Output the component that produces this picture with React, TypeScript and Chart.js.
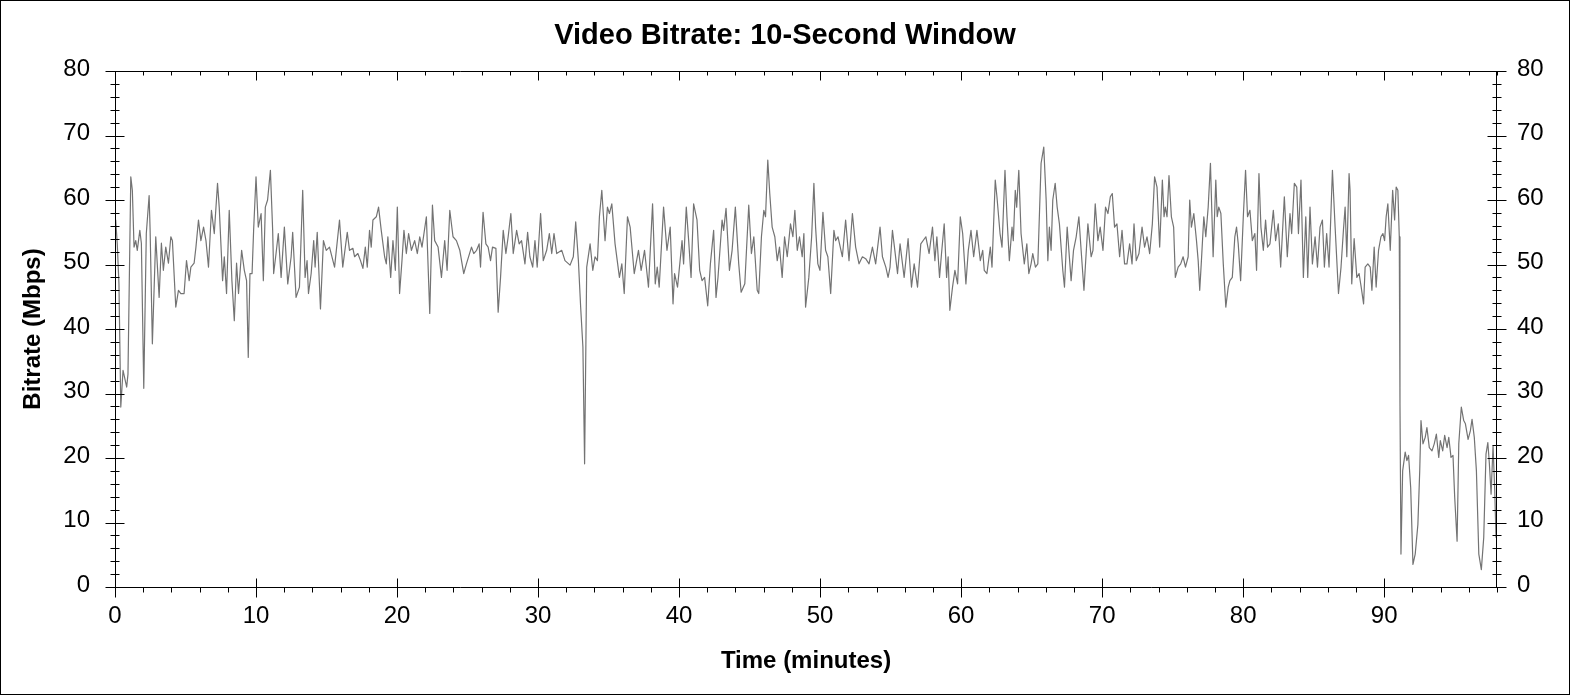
import { useEffect, useRef } from "react";
import { Chart, registerables } from "chart.js";

Chart.register(...registerables);

const FONT = "'Liberation Sans', Arial, Helvetica, sans-serif";

const TITLE = "Video Bitrate: 10-Second Window";
const X_TITLE = "Time (minutes)";
const Y_TITLE = "Bitrate (Mbps)";
const X_MAX = 98; // minutes
const Y_MAX = 80; // Mbps

// trace vertices: time (min) / bitrate (Mbps)
const minutes: number[] = [
  // 0 - 12 min
  0, 0.05, 0.16, 0.28, 0.41, 0.57, 0.83, 0.92, 1.12, 1.23,
  1.35, 1.47, 1.58, 1.76, 1.87, 2.04, 2.22, 2.42, 2.49, 2.65,
  2.89, 3.13, 3.29, 3.43, 3.6, 3.79, 3.96, 4.07, 4.31, 4.5,
  4.67, 4.9, 5.07, 5.26, 5.38, 5.61, 5.74, 5.92, 6.09, 6.28,
  6.45, 6.63, 6.84, 7.04, 7.27, 7.39, 7.63, 7.75, 7.91, 8.1,
  8.29, 8.46, 8.62, 8.76, 8.98, 9.17, 9.33, 9.45, 9.57, 9.72,
  9.83, 10.0, 10.16, 10.36, 10.52, 10.66, 10.82, 11.02, 11.18, 11.25,
  11.42, 11.58, 11.78, 12.01,
  // 12 - 25 min
  12.25, 12.49, 12.6, 12.84, 13.08, 13.31, 13.48, 13.62, 13.72, 13.91,
  14.09, 14.19, 14.34, 14.57, 14.78, 14.98, 15.21, 15.57, 15.92, 16.15,
  16.47, 16.63, 16.87, 16.99, 17.22, 17.41, 17.58, 17.75, 17.89, 18.05,
  18.17, 18.29, 18.53, 18.69, 18.88, 19.12, 19.24, 19.35, 19.55, 19.71,
  19.88, 20.02, 20.18, 20.35, 20.49, 20.66, 20.82, 21.02, 21.25, 21.44,
  21.61, 21.77, 22.08, 22.32, 22.51, 22.67, 22.91, 23.15, 23.38, 23.55,
  23.74, 23.97, 24.21, 24.45, 24.73,
  // 25 - 37 min
  24.92, 25.28, 25.44, 25.64, 25.82, 25.92, 26.1, 26.3, 26.46, 26.63,
  26.77, 27.01, 27.17, 27.34, 27.53, 27.72, 27.88, 28.07, 28.24, 28.48,
  28.66, 28.83, 29.07, 29.26, 29.42, 29.62, 29.78, 29.94, 30.18, 30.37,
  30.61, 30.8, 30.97, 31.13, 31.32, 31.68, 31.91, 32.27, 32.5, 32.67,
  32.86, 33.02, 33.18, 33.3, 33.45, 33.69, 33.88, 34.04, 34.21, 34.35,
  34.52, 34.75, 34.92, 35.06, 35.23, 35.46, 35.77, 35.94, 36.11, 36.34,
  36.53, 36.82,
  // 37 - 50 min
  37.12, 37.31, 37.55, 37.83, 38.12, 38.31, 38.45, 38.59, 38.9, 39.14,
  39.37, 39.57, 39.68, 39.89, 40.21, 40.32, 40.51, 40.68, 40.85, 41.03,
  41.27, 41.46, 41.63, 41.81, 42.03, 42.22, 42.45, 42.62, 42.76, 43.05,
  43.16, 43.33, 43.57, 43.76, 43.99, 44.23, 44.4, 44.66, 44.94, 45.13,
  45.3, 45.54, 45.65, 45.84, 46.01, 46.13, 46.29, 46.43, 46.6, 46.79,
  46.96, 47.12, 47.31, 47.48, 47.67, 47.9, 48.07, 48.21, 48.38, 48.54,
  48.73, 48.85, 48.97, 49.2, 49.4, 49.56, 49.68,
  // 50 - 62 min
  49.84, 49.99, 50.2, 50.39, 50.55, 50.75, 50.98, 51.1, 51.27, 51.58,
  51.81, 52.05, 52.29, 52.52, 52.76, 53, 53.23, 53.47, 53.71, 53.94,
  54.25, 54.42, 54.66, 54.82, 54.96, 55.13, 55.3, 55.49, 55.67, 55.96,
  56.24, 56.48, 56.67, 56.91, 57.14, 57.5, 57.73, 57.97, 58.14, 58.28,
  58.47, 58.61, 58.8, 58.97, 59.08, 59.2, 59.39, 59.56, 59.75, 59.94,
  60.11, 60.34, 60.51, 60.7, 60.89, 61.12, 61.36, 61.53, 61.64, 61.83,
  62.07,
  // 62 - 74 min
  62.19, 62.42, 62.54, 62.76, 62.9, 63.11, 63.25, 63.42, 63.61, 63.7,
  63.84, 63.94, 64.09, 64.25, 64.48, 64.66, 64.8, 64.96, 65.08, 65.27,
  65.44, 65.67, 65.86, 66.03, 66.15, 66.26, 66.38, 66.5, 66.67, 66.81,
  66.97, 67.21, 67.33, 67.52, 67.8, 67.97, 68.16, 68.35, 68.51, 68.71,
  68.99, 69.22, 69.35, 69.51, 69.7, 69.86, 70.06, 70.24, 70.41, 70.58,
  70.72, 70.88, 71.05, 71.24, 71.41, 71.59, 71.76, 71.95, 72.12, 72.26,
  72.42, 72.61, 72.83, 73.01, 73.18, 73.37, 73.56, 73.72, 73.89, 74.08,
  // 74 - 87 min
  74.27, 74.39, 74.48, 74.6, 74.74, 74.91, 75.07, 75.19, 75.39, 75.57,
  75.74, 75.91, 76.1, 76.21, 76.33, 76.5, 76.69, 76.81, 76.92, 77.04,
  77.21, 77.35, 77.52, 77.68, 77.87, 78.06, 78.16, 78.27, 78.42, 78.59,
  78.77, 78.94, 79.06, 79.23, 79.41, 79.53, 79.65, 79.82, 80.01, 80.17,
  80.31, 80.48, 80.65, 80.83, 80.95, 81.12, 81.26, 81.43, 81.59, 81.73,
  81.9, 82.14, 82.3, 82.49, 82.66, 82.92, 83.13, 83.32, 83.44, 83.63,
  83.8, 83.92, 84.1, 84.27, 84.44, 84.58, 84.74, 84.91, 85.1, 85.27,
  85.45, 85.62, 85.76, 85.92, 86.09, 86.33, 86.52, 86.76, 86.94,
  // 87 - 98 min
  87.11, 87.23, 87.35, 87.51, 87.58, 87.7, 87.87, 88.06, 88.22, 88.37,
  88.54, 88.65, 88.84, 89.01, 89.13, 89.29, 89.43, 89.6, 89.77, 89.91,
  90.03, 90.14, 90.26, 90.43, 90.6, 90.74, 90.85, 90.97, 91.07, 91.12,
  91.19, 91.31, 91.49, 91.61, 91.73, 91.88, 92.04, 92.2, 92.39, 92.52,
  92.61, 92.75, 92.91, 93.03, 93.2, 93.39, 93.55, 93.7, 93.87, 93.98,
  94.15, 94.29, 94.46, 94.58, 94.74, 94.88, 95, 95.17, 95.29, 95.47,
  95.64, 95.76, 95.95, 96.11, 96.23, 96.39, 96.54, 96.71, 96.89, 97.06,
  97.22, 97.35, 97.46, 97.58, 97.72, 97.84, 97.93, 98,
];

const mbps: number[] = [
  // 0 - 12 min
  55, 56.9, 53.2, 47, 27.9, 33.6, 31, 33, 63.6, 61.5,
  52.7, 53.7, 52.2, 55.3, 53.3, 30.8, 54.8, 60.7, 55.3, 37.7,
  54.3, 44.9, 53.3, 49.1, 52.7, 50.2, 54.3, 53.7, 43.4, 46,
  45.5, 45.5, 50.6, 47.5, 49.6, 50.2, 52.7, 56.9, 53.7, 55.8,
  53.7, 49.6, 58.4, 54.8, 62.6, 58.9, 47.5, 51.2, 45.5, 58.4,
  47.5, 41.3, 50.2, 45.5, 52.2, 49.1, 47.5, 35.6, 48.6, 48.6,
  55.3, 63.6, 55.8, 57.9, 47.5, 58.9, 60, 64.6, 55.3, 48.6,
  51.7, 54.8, 48, 55.8,
  // 12 - 25 min
  47, 51.2, 55, 44.9, 46.5, 61.5, 48, 50.6, 45.5, 48.6,
  53.7, 49.6, 55, 43.1, 53.7, 52.2, 52.7, 49.6, 56.9, 49.6,
  55, 52.2, 52.5, 51.2, 51.7, 50.6, 49.4, 52.7, 49.6, 55.3,
  52.7, 56.9, 57.4, 58.9, 55.3, 51.2, 50.1, 54.3, 48, 53.7,
  49.1, 58.9, 45.5, 50.6, 55.3, 51.7, 54.8, 52.2, 53.7, 51.7,
  54.3, 52.7, 57.4, 42.4, 59.2, 53.7, 52.7, 48, 53.7, 49.1,
  58.4, 54.3, 53.7, 52.2, 48.6,
  // 25 - 37 min
  50.1, 52.7, 51.7, 52.2, 53.2, 49.6, 58.1, 53.2, 52.7, 50.6,
  52.7, 52.5, 42.6, 48, 55.3, 51.7, 54.3, 57.9, 51.7, 55.3,
  53.2, 53.7, 50.1, 55, 51.2, 49.6, 53.7, 49.6, 57.9, 50.6,
  52.2, 54.8, 51.7, 54.8, 51.7, 52.2, 50.6, 49.9, 51.2, 56.6,
  50.6, 43.4, 37.2, 19.1, 49.6, 53.2, 49.1, 51.2, 50.6, 57.4,
  61.5, 53.7, 58.9, 57.9, 59.4, 53.2, 48, 50.1, 45.5, 57.4,
  55.8, 48.6,
  // 37 - 50 min
  52.2, 49.1, 52.2, 46.5, 59.4, 47, 49.6, 46.5, 58.9, 52.2,
  55.8, 43.9, 48.6, 46.5, 53.7, 50.1, 58.9, 53.7, 48, 59.4,
  56.9, 49.1, 47.5, 48, 43.6, 50.1, 55.3, 44.9, 48, 56.9,
  55.3, 58.7, 49.1, 52.2, 58.9, 50.1, 45.7, 47, 59.2, 51.7,
  54.3, 46, 45.5, 54.3, 58.4, 57.4, 66.2, 61, 55.8, 54.3,
  50.6, 52.7, 48, 54.3, 51.2, 56.3, 54.3, 58.4, 52.2, 54.3,
  51.2, 54.8, 43.4, 48, 54.3, 62.6, 55.8,
  // 50 - 62 min
  50.1, 49.1, 58.1, 52.2, 51.2, 45.5, 55.3, 53.7, 54.3, 51.2,
  56.9, 50.6, 57.9, 52.7, 50.1, 51.2, 50.9, 50.1, 52.7, 50.1,
  55.8, 51.2, 49.6, 48, 49.6, 55.3, 52.2, 48.6, 53.2, 48,
  54, 46.5, 50.1, 46.5, 53.2, 54.3, 51.7, 55.8, 50.6, 54.3,
  48, 51.7, 56.3, 48, 51.2, 42.9, 46.5, 49.1, 47, 57.4,
  54.8, 47, 52.2, 55.3, 51.2, 55.3, 50.6, 52.2, 49.1, 48.6,
  52.7,
  // 62 - 74 min
  49.6, 63.1, 60.5, 54.8, 52.7, 64.6, 57.4, 50.6, 55.8, 53.7,
  61.5, 58.9, 64.6, 54.8, 50.1, 53.2, 48.6, 50.1, 51.7, 49.6,
  50.1, 65.7, 68.2, 60, 50.6, 55.8, 52.2, 60, 62.6, 58.9,
  56.3, 49.1, 46.5, 55.8, 47.5, 52.2, 54.3, 57.4, 52.2, 46,
  56.3, 51.2, 52.2, 59.4, 53.7, 55.8, 52.2, 58.9, 57.9, 60.5,
  61, 55.8, 56.3, 51.2, 55.3, 50.1, 50.1, 53.2, 50.1, 56.3,
  50.6, 51.7, 55.8, 52.7, 54.3, 51.7, 56.3, 63.6, 62, 52.7,
  // 74 - 87 min
  63.1, 57.4, 58.9, 57.4, 63.8, 57.4, 55.8, 48, 49.6, 50.1,
  51.2, 49.6, 51.2, 60, 55.8, 57.9, 53.7, 50.6, 46, 50.6,
  57.4, 54.3, 58.9, 65.7, 51.2, 63.1, 57.4, 58.9, 57.9, 50.1,
  43.4, 46.5, 47.5, 48, 54.3, 55.8, 53.2, 47.5, 57.4, 64.6,
  57.4, 58.4, 53.7, 54.8, 49.1, 64.1, 55.8, 52.2, 56.9, 52.7,
  53.2, 58.4, 53.7, 56.3, 49.6, 60.5, 51.2, 57.9, 54.8, 62.6,
  62, 54.8, 63.1, 48, 57.4, 48, 58.9, 50.1, 54.3, 49.6,
  55.8, 56.9, 49.6, 54.8, 49.6, 64.6, 55.8, 45.5, 49.6,
  // 87 - 98 min
  55.3, 58.9, 51.2, 64.1, 61.5, 47, 54, 48, 48.6, 46.5,
  43.9, 49.6, 50.1, 49.6, 46, 52.7, 46.5, 52.2, 54.3, 54.8,
  53.7, 57.4, 59.4, 52.2, 61.5, 56.9, 62, 61.5, 54.3, 28.4,
  5.1, 18, 20.9, 19.6, 20.4, 15.4, 3.5, 5.1, 9.7, 18,
  25.8, 22.2, 23.2, 24.7, 21.6, 21.1, 22.2, 23.7, 20.1, 22.7,
  21.1, 23.5, 21.6, 23.2, 20.1, 20.4, 13.9, 7.1, 22.2, 27.9,
  25.8, 25.3, 22.9, 24.2, 26, 23.2, 18, 5.1, 2.7, 7.7,
  20.6, 22.4, 19.1, 14.4, 21.9, 14.9, 7.7, 8.7,
];

// plot frame with the minor/major tick marks of the original (ticks every 2, labels every 10)
const framePlugin = {
  id: "frame",
  beforeDraw(chart: any) {
    const { ctx, width, height } = chart;
    ctx.save();
    ctx.fillStyle = "#ffffff";
    ctx.fillRect(0, 0, width, height);
    ctx.strokeStyle = "#000000";
    ctx.lineWidth = 1;
    ctx.strokeRect(0.5, 0.5, width - 1, height - 1);
    ctx.restore();
  },
  afterDraw(chart: any) {
    const { ctx, chartArea: a, scales } = chart;
    const L = Math.round(a.left) + 0.5;
    const R = Math.round(a.right) - 0.5;
    const T = Math.round(a.top) + 0.5;
    const B = Math.round(a.bottom) + 0.5;
    ctx.save();
    ctx.strokeStyle = "#000000";
    ctx.lineWidth = 1;
    ctx.beginPath();
    ctx.rect(L, T, R - L, B - T);
    for (let m = 0; m <= X_MAX; m += 2) {
      const px = Math.round(scales.x.getPixelForValue(m)) + 0.5;
      const major = m % 10 === 0;
      ctx.moveTo(px, T);
      ctx.lineTo(px, T + (major ? 9 : 4));
      ctx.moveTo(px, major ? B - 9 : B);
      ctx.lineTo(px, B + (major ? 10 : 5));
    }
    for (let v = 0; v <= Y_MAX; v += 2) {
      const py = Math.round(scales.y.getPixelForValue(v)) + 0.5;
      const major = v % 10 === 0;
      ctx.moveTo(L - (major ? 10 : 5), py);
      ctx.lineTo(L + (major ? 9 : 4), py);
      ctx.moveTo(R - (major ? 9 : 4), py);
      ctx.lineTo(R + (major ? 10 : 5), py);
    }
    ctx.stroke();
    ctx.restore();
  },
};

export default function App() {
  const ref = useRef<HTMLCanvasElement | null>(null);

  useEffect(() => {
    if (!ref.current) return;
    const tickFont = { family: FONT, size: 24 };
    const titleFont = { family: FONT, size: 24, weight: "bold" as const, lineHeight: 1.2 };

    const chart = new Chart(ref.current, {
      type: "line",
      data: {
        datasets: [
          {
            label: "bitrate",
            data: minutes.map((m, i) => ({ x: m, y: mbps[i] })),
            borderColor: "#737373",
            borderWidth: 1.2,
            borderJoinStyle: "round",
            pointRadius: 0,
            tension: 0,
            fill: false,
            yAxisID: "y",
          },
        ],
      },
      options: {
        animation: false,
        responsive: false,
        devicePixelRatio: 1,
        layout: { padding: 0 },
        plugins: {
          legend: { display: false },
          tooltip: { enabled: false },
          title: {
            display: true,
            text: TITLE,
            color: "#000",
            font: { family: FONT, size: 29, weight: "bold", lineHeight: 1.2 },
            padding: { top: 18.4, bottom: 17.8 },
          },
        },
        scales: {
          x: {
            type: "linear",
            position: "bottom",
            min: 0,
            max: X_MAX,
            afterFit: (s: any) => { s.height = 108; },
            grid: { display: false, drawTicks: false },
            border: { display: false },
            ticks: {
              stepSize: 10,
              includeBounds: false,
              autoSkip: false,
              maxRotation: 0,
              padding: 14.6,
              color: "#000",
              font: tickFont,
            },
            title: {
              display: true,
              text: X_TITLE,
              color: "#000",
              font: titleFont,
              padding: { top: 0, bottom: 19.4 },
            },
          },
          y: {
            type: "linear",
            position: "left",
            min: 0,
            max: Y_MAX,
            afterFit: (s: any) => { s.width = 115; },
            grid: { display: false, drawTicks: false },
            border: { display: false },
            ticks: { stepSize: 10, padding: 25, labelOffset: -2, color: "#000", font: tickFont },
            title: {
              display: true,
              text: Y_TITLE,
              color: "#000",
              font: titleFont,
              padding: { top: 18.6, bottom: 0 },
            },
          },
          y2: {
            type: "linear",
            position: "right",
            min: 0,
            max: Y_MAX,
            afterFit: (s: any) => { s.width = 73; },
            grid: { display: false, drawTicks: false },
            border: { display: false },
            ticks: { stepSize: 10, padding: 20, labelOffset: -2, color: "#000", font: tickFont },
          },
        },
      },
      plugins: [framePlugin],
    });

    return () => chart.destroy();
  }, []);

  return (
    <div style={{ position: "fixed", left: 0, top: 0, width: 1570, height: 695, background: "#fff" }}>
      <canvas ref={ref} width={1570} height={695} style={{ display: "block" }} />
    </div>
  );
}
